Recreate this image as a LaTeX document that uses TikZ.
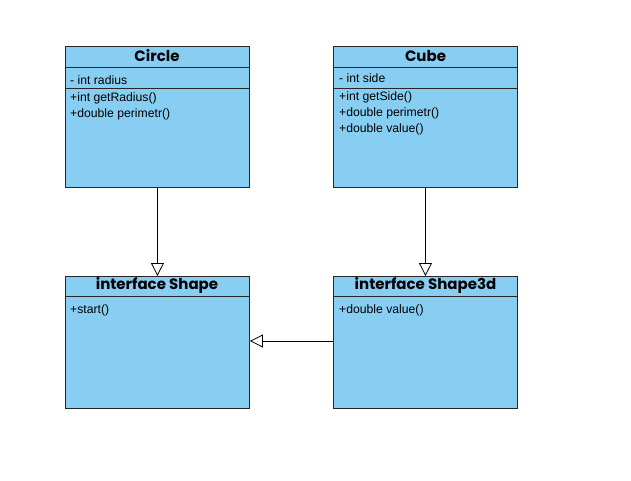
\documentclass[tikz,border=0pt]{standalone}
\usepackage{fontspec}
\setmainfont{Liberation Sans}
\newfontfamily\titlefont{Poppins}
\usetikzlibrary{arrows.meta}
\definecolor{umlblue}{RGB}{136,206,242}
\tikzset{
  classbox/.style={draw=black!85, fill=umlblue, line width=0.9pt, anchor=north west, minimum width=184pt, inner sep=0pt},
  ctitle/.style={anchor=center, font=\titlefont\bfseries\fontsize{15}{17}\selectfont, inner sep=0pt},
  member/.style={anchor=west, font=\fontsize{12.2}{14}\selectfont, inner sep=0pt},
  sepline/.style={draw=black!85, line width=0.9pt},
  inherit/.style={draw=black, line width=0.8pt, -{Triangle[open, length=13pt, width=13pt, fill=white]}}
}
\begin{document}
\begin{tikzpicture}[x=1pt,y=-1pt]
\useasboundingbox (0,0) rectangle (631,481);
% boxes
\node[classbox, minimum height=141pt] (circle) at (65,46) {};
\node[classbox, minimum height=141pt] (cube) at (333,46) {};
\node[classbox, minimum height=132pt] (shape) at (65,276) {};
\node[classbox, minimum height=132pt] (shape3d) at (333,276) {};
% separators
\draw[sepline] (65,67) -- (249,67);
\draw[sepline] (65,88) -- (249,88);
\draw[sepline] (333,67) -- (518,67);
\draw[sepline] (333,88) -- (518,88);
\draw[sepline] (65,296) -- (249,296);
\draw[sepline] (333,296) -- (518,296);
% titles
\node[ctitle] (circlet) at (157,56) {Circle};
\node[ctitle] (cubet) at (425.5,56) {Cube};
\node[ctitle] (shapet) at (157,285.5) {interface Shape};
\node[ctitle] (shape3dt) at (425.5,285.5) {interface Shape3d};
% members
\node[member] (c1) at (70,80.5) {- int radius};
\node[member] (c2) at (70,98.5) {+int getRadius()};
\node[member] (c3) at (70,114.5) {+double perimetr()};
\node[member] (k1) at (339,78.5) {- int side};
\node[member] (k2) at (339,97) {+int getSide()};
\node[member] (k3) at (339,113) {+double perimetr()};
\node[member] (k4) at (339,129) {+double value()};
\node[member] (s1) at (70,310.5) {+start()};
\node[member] (d1) at (339,310.5) {+double value()};
% connectors
\draw[inherit] (circle.south) -- (shape.north);
\draw[inherit] (cube.south) -- (shape3d.north);
\draw[inherit] (shape3d.west |- 0,341) -- (shape.east |- 0,341);
\end{tikzpicture}
\end{document}
